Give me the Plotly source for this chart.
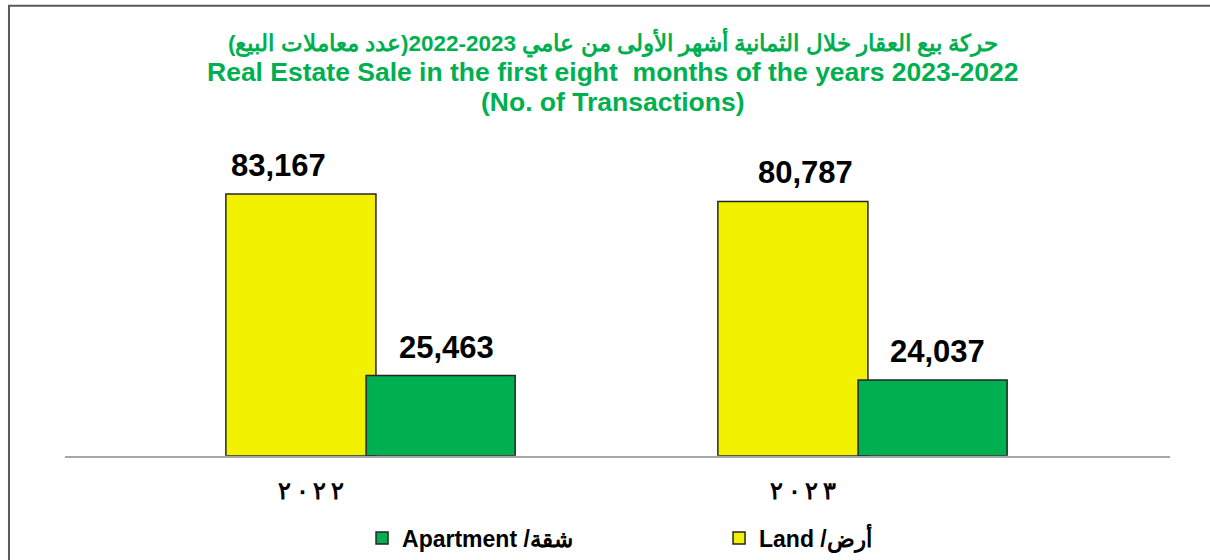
import plotly.graph_objects as go

# ---- data ----
categories = ["٢٠٢٢", "٢٠٢٣"]
land = [83167, 80787]
apartment = [25463, 24037]
series_names = ["Land /أرض", "Apartment /شقة"]
title_ar = "\u202bحركة بيع العقار خلال الثمانية أشهر الأولى من عامي 2023-2022(عدد معاملات البيع)\u202c"
title_en = "Real Estate Sale in the first eight\u00a0 months of the years 2023-2022"
title_en2 = "(No. of Transactions)"

FONT = "Arial, 'Liberation Sans', sans-serif"
LAND_COLOR = "#F2F200"
APT_COLOR = "#00B050"
TITLE_COLOR = "#00B050"

land_offset, land_width = -0.295, 0.305
apt_offset, apt_width = -0.010, 0.303
# manual horizontal nudges of the value labels (pixels), as in the original
land_label_shift = [-22, 13]
apt_label_shift = [6, 5]

fig = go.Figure()
fig.add_trace(go.Bar(
    x=categories, y=land, name=series_names[0],
    offset=land_offset, width=land_width,
    marker=dict(color=LAND_COLOR, line=dict(color="#262626", width=1.5)),
))
fig.add_trace(go.Bar(
    x=categories, y=apartment, name=series_names[1],
    offset=apt_offset, width=apt_width,
    marker=dict(color=APT_COLOR, line=dict(color="#262626", width=1.5)),
))

annotations = []
for vals, off, w, shifts in ((land, land_offset, land_width, land_label_shift),
                             (apartment, apt_offset, apt_width, apt_label_shift)):
    for i, v in enumerate(vals):
        annotations.append(dict(x=i + off + w / 2, y=v, xref="x", yref="y",
                                text=f"<b>{v:,}</b>", showarrow=False, yanchor="bottom",
                                yshift=9, xshift=shifts[i],
                                font=dict(family=FONT, size=31, color="black")))

for txt, yy, sz in ((title_ar, 1.313, 22.5), (title_en, 1.218, 26.5), (title_en2, 1.123, 26.5)):
    annotations.append(dict(x=0.4955, y=yy, xref="paper", yref="paper", text=f"<b>{txt}</b>",
                            showarrow=False, xanchor="center", yanchor="middle",
                            font=dict(family=FONT, size=sz, color=TITLE_COLOR)))

tick_text = ["\u202d" + "\u2009".join(c) + "\u202c" for c in categories]

fig.update_layout(
    width=1210, height=560,
    margin=dict(l=65, r=40, t=141, b=103),
    paper_bgcolor="white", plot_bgcolor="white",
    barmode="overlay",
    xaxis=dict(type="category", range=[-0.622, 1.624], showline=True, linecolor="#A6A6A6",
               linewidth=2, ticks="", showgrid=False, zeroline=False,
               tickmode="array", tickvals=categories, ticktext=tick_text,
               tickfont=dict(family=FONT, size=24, color="black", weight="bold"),
               ticklabelshift=-60, ticklabelstandoff=13),
    yaxis=dict(range=[0, 100000], visible=False),
    showlegend=True,
    legend=dict(orientation="h", xref="container", yref="container",
                x=0.2992, xanchor="left", y=0.0393, yanchor="middle",
                traceorder="reversed", entrywidth=312,
                font=dict(family=FONT, size=23, color="black", weight="bold")),
    annotations=annotations,
    shapes=[dict(type="rect", xref="paper", yref="paper", x0=-0.0507, x1=1.2, y0=-0.6, y1=1.430,
                 line=dict(color="#595959", width=2), fillcolor="rgba(0,0,0,0)", layer="below")],
)

fig.write_html("out.html", config={"displayModeBar": False},
               post_script="document.body.style.margin='0';")
